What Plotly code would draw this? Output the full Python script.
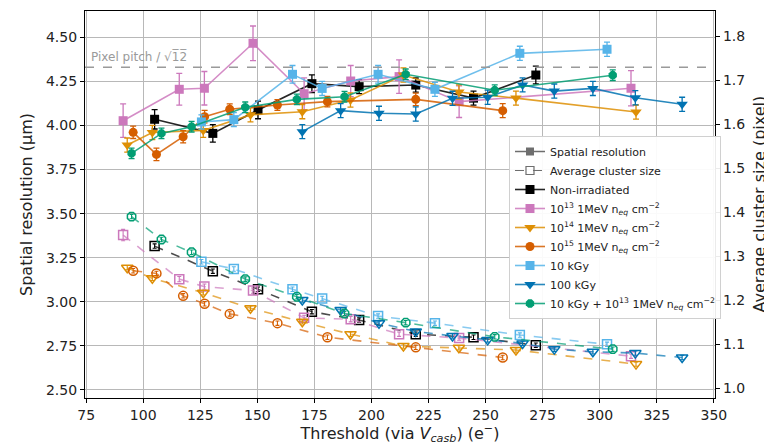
import plotly.graph_objects as go

# ---------------- data ----------------
thr_nonirr = [105.0, 130.5, 150.3, 173.9, 194.6, 219.4, 244.7, 272.0]
res_nonirr = [4.035, 3.955, 4.088, 4.237, 4.220, 4.229, 4.155, 4.286]
rerr_nonirr = [0.055, 0.05, 0.05, 0.05, 0.04, 0.04, 0.04, 0.05]
cls_nonirr = [1.323, 1.266, 1.225, 1.174, 1.155, 1.123, 1.116, 1.098]

thr_n13 = [91.2, 115.8, 126.8, 148.1, 170.5, 190.9, 212.1, 238.4, 313.7]
res_n13 = [4.027, 4.205, 4.211, 4.466, 4.180, 4.252, 4.277, 4.135, 4.211]
rerr_n13 = [0.095, 0.09, 0.095, 0.098, 0.09, 0.088, 0.095, 0.09, 0.1]
cls_n13 = [1.348, 1.248, 1.231, 1.222, 1.160, 1.157, 1.123, 1.114, 1.073]
cerr_n13 = [0.013, 0.006, 0.006, 0.006, 0.006, 0.006, 0.005, 0.005, 0.005]

thr_n14 = [93.0, 104.0, 126.3, 147.0, 169.7, 190.8, 214.0, 238.3, 263.3, 315.9]
res_n14 = [3.889, 3.960, 3.972, 4.060, 4.078, 4.144, 4.286, 4.190, 4.155, 4.076]
rerr_n14 = [0.04] * 10
cls_n14 = [1.274, 1.250, 1.217, 1.182, 1.151, 1.123, 1.096, 1.092, 1.087, 1.055]

thr_n15 = [95.6, 105.8, 117.5, 126.9, 137.9, 158.8, 180.7, 219.4, 257.5]
res_n15 = [3.961, 3.836, 3.936, 4.050, 4.092, 4.116, 4.135, 4.148, 4.084]
rerr_n15 = [0.035, 0.035, 0.035, 0.035, 0.03, 0.03, 0.03, 0.035, 0.04]
cls_n15 = [1.267, 1.261, 1.210, 1.192, 1.169, 1.148, 1.116, 1.093, 1.070]

thr_10k = [125.5, 139.7, 165.4, 178.4, 202.9, 227.8, 265.0, 303.2]
res_10k = [4.020, 4.033, 4.290, 4.210, 4.290, 4.205, 4.409, 4.432]
rerr_10k = [0.04, 0.04, 0.05, 0.04, 0.05, 0.04, 0.04, 0.04]
cls_10k = [1.2875, 1.271, 1.225, 1.204, 1.164, 1.148, 1.121, 1.100]

thr_100k = [169.7, 186.5, 203.3, 219.4, 235.5, 250.9, 266.2, 280.1, 297.0, 315.6, 336.1]
res_100k = [3.965, 4.084, 4.069, 4.065, 4.154, 4.160, 4.230, 4.195, 4.210, 4.157, 4.120]
rerr_100k = [0.04] * 11
cls_100k = [1.2005, 1.178, 1.148, 1.129, 1.119, 1.110, 1.102, 1.089, 1.083, 1.080, 1.070]

thr_mix = [94.9, 108.0, 121.2, 144.7, 167.3, 188.2, 215.0, 254.0, 305.7]
res_mix = [3.842, 3.955, 3.993, 4.103, 4.148, 4.163, 4.290, 4.200, 4.285]
rerr_mix = [0.03] * 9
cls_mix = [1.390, 1.338, 1.309, 1.248, 1.208, 1.170, 1.149, 1.117, 1.089]

pixel_pitch = 15.0
x_ticks = [75, 100, 125, 150, 175, 200, 225, 250, 275, 300, 325, 350]
yl_ticks = [2.50, 2.75, 3.00, 3.25, 3.50, 3.75, 4.00, 4.25, 4.50]
yr_ticks = [1.0, 1.1, 1.2, 1.3, 1.4, 1.5, 1.6, 1.7, 1.8]

series = [
    ("Non-irradiated", "#000000", "square", thr_nonirr, res_nonirr, rerr_nonirr, cls_nonirr, None),
    ("10<sup>13</sup> 1MeV n<sub><i>eq</i></sub> cm<sup>−2</sup>", "#CC78BC", "square", thr_n13, res_n13, rerr_n13, cls_n13, cerr_n13),
    ("10<sup>14</sup> 1MeV n<sub><i>eq</i></sub> cm<sup>−2</sup>", "#DE8F05", "triangle-down", thr_n14, res_n14, rerr_n14, cls_n14, None),
    ("10<sup>15</sup> 1MeV n<sub><i>eq</i></sub> cm<sup>−2</sup>", "#D55E00", "circle", thr_n15, res_n15, rerr_n15, cls_n15, None),
    ("10 kGy", "#56B4E9", "square", thr_10k, res_10k, rerr_10k, cls_10k, None),
    ("100 kGy", "#0173B2", "triangle-down", thr_100k, res_100k, rerr_100k, cls_100k, None),
    ("10 kGy + 10<sup>13</sup> 1MeV n<sub><i>eq</i></sub> cm<sup>−2</sup>", "#029E73", "octagon", thr_mix, res_mix, rerr_mix, cls_mix, None),
]

fig = go.Figure()

# legend-only style entries
gray = "#6e6e6e"
fig.add_trace(go.Scatter(x=[None], y=[None], mode="lines+markers", name="Spatial resolution",
                         line=dict(color=gray, width=1.5),
                         marker=dict(symbol="square", size=8, color=gray)))
fig.add_trace(go.Scatter(x=[None], y=[None], mode="lines+markers", name="Average cluster size",
                         line=dict(color=gray, width=1.2, dash="dash"),
                         marker=dict(symbol="square-open", size=8, color=gray, line=dict(width=1.2))))


def rgba(hexc, a):
    h = hexc.lstrip("#")
    return "rgba(%d,%d,%d,%.2f)" % (int(h[0:2], 16), int(h[2:4], 16), int(h[4:6], 16), a)


for name, col, sym, thr, res, rerr, cls, cerr in series:
    fig.add_trace(go.Scatter(
        x=thr, y=res, mode="lines+markers", name=name,
        line=dict(color=rgba(col, 0.85), width=1.6),
        marker=dict(symbol=sym, size=9 if sym != "triangle-down" else 10, color=col),
        error_y=dict(type="data", array=rerr, color=col, thickness=1.3, width=3),
        yaxis="y",
    ))

for name, col, sym, thr, res, rerr, cls, cerr in series:
    fig.add_trace(go.Scatter(
        x=thr, y=cls, mode="lines+markers", name=name, showlegend=False,
        line=dict(color=rgba(col, 0.7), width=1.6, dash="dash"),
        marker=dict(symbol=sym + "-open", size=9 if sym != "triangle-down" else 10, color=col,
                    line=dict(width=1.5)),
        error_y=dict(type="data", array=cerr if cerr else [0.005] * len(cls), color=col,
                     thickness=1.1, width=2),
        yaxis="y2",
    ))

axis_common = dict(showline=True, linecolor="black", linewidth=1.2, ticks="outside",
                   ticklen=4, tickcolor="black", tickwidth=1.2,
                   tickfont=dict(family="DejaVu Sans", size=14, color="#222"),
                   zeroline=False)

fig.update_layout(
    width=764, height=445,
    margin=dict(l=85, r=49, t=11, b=47, autoexpand=False),
    paper_bgcolor="white", plot_bgcolor="white",
    font=dict(family="DejaVu Sans", color="#222"),
    xaxis=dict(range=[74.5, 350.5], tickvals=x_ticks, mirror=True,
               showgrid=True, gridcolor="#b8b8b8", gridwidth=1.2,
               title=dict(text="Threshold (via <i>V</i><sub><i>casb</i></sub>) (e<sup>−</sup>)",
                          font=dict(size=16), standoff=4),
               **axis_common),
    yaxis=dict(range=[2.4546, 4.649], tickvals=yl_ticks, tickformat=".2f",
               showgrid=True, gridcolor="#b8b8b8", gridwidth=1.2,
               title=dict(text="Spatial resolution (µm)", font=dict(size=16), standoff=9),
               **axis_common),
    yaxis2=dict(range=[0.978, 1.857], tickvals=yr_ticks, tickformat=".1f",
                overlaying="y", side="right", showgrid=False,
                **axis_common),
    legend=dict(x=0.673, y=0.677, xanchor="left", yanchor="top",
                bgcolor="rgba(255,255,255,0.92)", bordercolor="#d0d0d0", borderwidth=1,
                font=dict(family="DejaVu Sans", size=11, color="#222"),
                itemwidth=30, tracegroupgap=0),
    showlegend=True,
)

# right axis title (placed as rotated text beside the right tick labels)
fig.add_annotation(x=(759 - 85) / 630, xref="paper", y=0.5, yref="paper",
                   text="Average cluster size (pixel)", textangle=-90, showarrow=False,
                   xanchor="center", yanchor="middle",
                   font=dict(family="DejaVu Sans", size=16, color="#222"))

fig.add_hline(y=pixel_pitch / 12 ** 0.5, line=dict(color="#9a9a9a", width=1.3, dash="dash"), yref="y")
fig.add_annotation(x=0.006, xref="paper", y=pixel_pitch / 12 ** 0.5, yref="y",
                   text="Pixel pitch / √1\u03052\u0305", showarrow=False,
                   xanchor="left", yanchor="bottom", yshift=1,
                   font=dict(family="DejaVu Sans", size=12, color="#9a9a9a"))

fig.write_html("out.html", config={"displayModeBar": False},
               post_script="document.body.style.margin='0px';")
